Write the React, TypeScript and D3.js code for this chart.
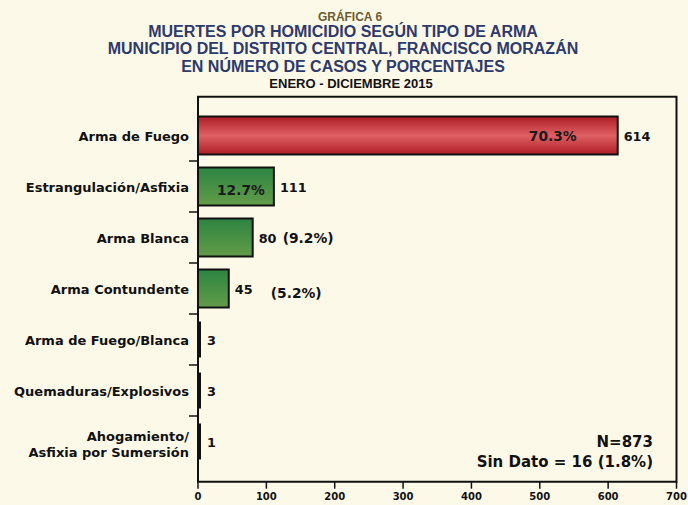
import React from "react";
import * as d3 from "d3";

const categories = [
  "Arma de Fuego",
  "Estrangulación/Asfixia",
  "Arma Blanca",
  "Arma Contundente",
  "Arma de Fuego/Blanca",
  "Quemaduras/Explosivos",
  "Ahogamiento/\nAsfixia por Sumersión",
];
const values = [614, 111, 80, 45, 3, 3, 1];
const percents = ["70.3%", "12.7%", "(9.2%)", "(5.2%)", "", "", ""];
const pctInside = [true, true, false, false, false, false, false];
const barKind = ["red", "green", "green", "green", "black", "black", "black"];
const xTicks = [0, 100, 200, 300, 400, 500, 600, 700];
const titleLines = [
  "MUERTES POR HOMICIDIO SEGÚN TIPO DE ARMA",
  "MUNICIPIO DEL DISTRITO CENTRAL, FRANCISCO MORAZÁN",
  "EN NÚMERO DE CASOS Y PORCENTAJES",
];
const supTitle = "GRÁFICA 6";
const subTitle = "ENERO - DICIEMBRE 2015";
const noteLines = ["N=873", "Sin Dato = 16 (1.8%)"];

const W = 688;
const H = 505;
const FONT = "'DejaVu Sans', Verdana, sans-serif";
const TFONT = "'Liberation Sans Narrow', 'Liberation Sans', Arial, sans-serif";

export default function App() {
  const left = 198;
  const right = 676.5;
  const top = 96.7;
  const bottom = 481.7;
  const x = d3.scaleLinear().domain([0, 700]).range([left, right]);
  const y = d3
    .scaleBand<string>()
    .domain(categories)
    .range([110, 467])
    .paddingInner(0.255)
    .paddingOuter(0.1275);
  const step = y.step();
  const r0 = y.range()[0];

  return (
    <svg
      width={W}
      height={H}
      style={{ position: "absolute", left: 0, top: 0, display: "block" }}
    >
      <defs>
        <linearGradient id="gRed" x1="0" y1="0" x2="0" y2="1">
          <stop offset="0" stopColor="#ad1d25" />
          <stop offset="0.5" stopColor="#df6064" />
          <stop offset="1" stopColor="#ad1d25" />
        </linearGradient>
        <linearGradient id="gGreen" x1="0" y1="0" x2="0" y2="1">
          <stop offset="0" stopColor="#2c8442" />
          <stop offset="1" stopColor="#639c48" />
        </linearGradient>
      </defs>
      <rect x={0} y={0} width={W} height={H} fill="#fdf9e9" />

      {/* titles */}
      <text x={350} y={21} textAnchor="middle" fontFamily={TFONT} fontWeight="bold" fontSize={12} fill="#6d5c2e">
        {supTitle}
      </text>
      {titleLines.map((t, i) => (
        <text
          key={t}
          x={343}
          y={37 + i * 17.3}
          textAnchor="middle"
          fontFamily={TFONT}
          fontWeight="bold"
          fontSize={16}
          fill="#2d3a6c"
        >
          {t}
        </text>
      ))}
      <text x={351} y={88} textAnchor="middle" fontFamily={TFONT} fontWeight="bold" fontSize={13} fill="#111">
        {subTitle}
      </text>

      {/* frame */}
      <path
        d={`M${left},${bottom} L${left},${top} L${right},${top} L${right},${bottom} Z`}
        fill="none"
        stroke="#111"
        strokeWidth={2}
      />

      {/* y ticks between categories */}
      {categories.slice(1).map((c, i) => {
        const yy = r0 + (i + 1) * step;
        return <line key={c} x1={left - 9} x2={left} y1={yy} y2={yy} stroke="#111" strokeWidth={1.5} />;
      })}

      {/* x ticks */}
      {xTicks.map((t) => (
        <g key={t}>
          <line x1={x(t)} x2={x(t)} y1={bottom} y2={bottom + 7} stroke="#111" strokeWidth={1.5} />
          <text x={x(t)} y={500} textAnchor="middle" fontFamily={FONT} fontWeight="bold" fontSize={10} fill="#111">
            {t}
          </text>
        </g>
      ))}

      {/* bars */}
      {categories.map((c, i) => {
        const by = y(c)!;
        const bh = y.bandwidth();
        const bw = x(values[i]) - x(0);
        const kind = barKind[i];
        const fill = kind === "red" ? "url(#gRed)" : kind === "green" ? "url(#gGreen)" : "#111";
        return (
          <g key={c}>
            {kind === "black" ? (
              <rect x={x(0)} y={by + 1} width={Math.max(bw, 3)} height={bh - 2} fill="#111" />
            ) : (
              <rect x={x(0)} y={by} width={bw} height={bh} fill={fill} stroke="#111" strokeWidth={2} />
            )}
          </g>
        );
      })}

      {/* category labels */}
      {categories.map((c, i) => {
        const cy = y(c)! + y.bandwidth() / 2;
        const lines = c.split("\n");
        return (
          <text key={c} textAnchor="end" fontFamily={FONT} fontWeight="bold" fontSize={13} fill="#111">
            {lines.map((l, j) => (
              <tspan key={j} x={189} y={lines.length > 1 ? cy - 0.5 + j * 16 : cy + 5}>
                {l}
              </tspan>
            ))}
          </text>
        );
      })}

      {/* value labels */}
      {categories.map((c, i) => {
        const cy = y(c)! + y.bandwidth() / 2;
        const xe = Math.max(x(values[i]), x(0) + 3);
        return (
          <text key={c} x={xe + 6} y={cy + 5} fontFamily={FONT} fontWeight="bold" fontSize={12.8} fill="#111">
            {values[i]}
          </text>
        );
      })}

      {/* percent labels */}
      {categories.map((c, i) => {
        if (!percents[i]) return null;
        const cy = y(c)! + y.bandwidth() / 2;
        if (pctInside[i]) {
          const xe = x(values[i]);
          return (
            <text key={c} x={i === 0 ? xe - 41 : xe - 9} y={cy + (i === 0 ? 5 : 8)} textAnchor="end" fontFamily={FONT} fontWeight="bold" fontSize={13.8} fill="#1a1a1a">
              {percents[i]}
            </text>
          );
        }
        const xs = i === 2 ? x(values[i]) + 30 : x(values[i]) + 42;
        return (
          <text key={c} x={xs} y={cy + (i === 2 ? 5 : 9)} fontFamily={FONT} fontWeight="bold" fontSize={13.8} fill="#111">
            {percents[i]}
          </text>
        );
      })}

      {/* note */}
      {noteLines.map((t, i) => (
        <text key={t} x={653} y={447 + i * 20} textAnchor="end" fontFamily={FONT} fontWeight="bold" fontSize={15} fill="#111">
          {t}
        </text>
      ))}
    </svg>
  );
}
